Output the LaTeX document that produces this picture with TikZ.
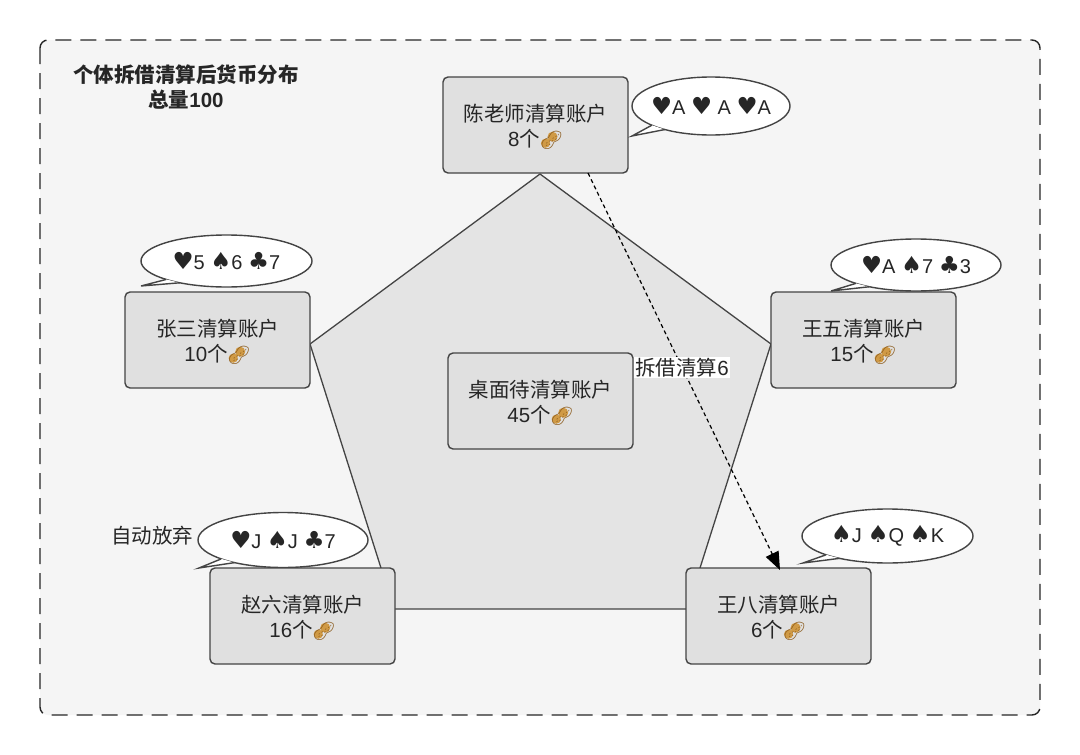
\documentclass[tikz,border=0pt]{standalone}
\usepackage{fontspec}
\setmainfont{Liberation Sans}
\newfontfamily\cjk{Noto Sans CJK SC}
\newfontfamily\suit{DejaVu Sans}
\newfontfamily\emojifont{Noto Emoji}
\usetikzlibrary{arrows.meta,calc,shapes.geometric}
\definecolor{panelbg}{HTML}{F5F5F5}
\definecolor{boxbg}{HTML}{E0E0E0}
\definecolor{pentbg}{HTML}{E4E4E4}
\definecolor{edge}{HTML}{444444}
\definecolor{peanut}{HTML}{D09A45}
\definecolor{peanutdark}{HTML}{8A5A1C}
\newcommand{\nut}{\rlap{\tikz[overlay]{\fill[peanut] (5.5,-3.5) circle[radius=4.6pt];\fill[peanut] (12.5,-10) circle[radius=5pt];\fill[peanut] (5.5,-3.5) -- (9,-5) -- (12.5,-10) -- (8,-9) -- cycle;}}\smash{\fontsize{18}{18}\selectfont\emojifont\textcolor{peanutdark}{\symbol{"1F95C}}}}
\newcommand{\acct}[2]{\rule{0pt}{20pt}{\cjk #1}\\#2{\cjk 个}\nut}
\newcommand{\suitglyph}[1]{{\fontsize{23.5}{23}\selectfont\suit\symbol{#1}}}
\newcommand{\Hrt}{\suitglyph{"2665}}
\newcommand{\Spd}{\suitglyph{"2660}}
\newcommand{\Clb}{\suitglyph{"2663}}
\tikzset{
  x=1pt,y=-1pt,
  txt/.style={font=\fontsize{20.5}{25}\selectfont,text=black!85,align=center,inner sep=0pt},
  acctbox/.style={txt,draw=edge,fill=boxbg,line width=1.4pt,rounded corners=5pt,minimum width=185pt,minimum height=96pt,anchor=north west,outer sep=0pt},
  bubble/.style={ellipse,draw=edge,fill=white,line width=1.4pt,inner sep=0pt,outer sep=0pt,font=\fontsize{20}{23}\selectfont,text=black!85},
  tailfill/.style={fill=white,draw=none},
  tailline/.style={draw=edge,line width=1.4pt,line join=miter},
}
% #1 name, #2 tip x,y, #3 angle a, #4 angle b
\newcommand{\bubbletail}[4]{
  \coordinate (#1tip) at (#2);
  \fill[tailfill] (#1.#3) -- (#1tip) -- (#1.#4) -- cycle;
  \draw[tailline] (#1.#3) -- (#1tip) -- (#1.#4);
}
\newcommand{\hands}[1]{\kern-20pt #1\kern-20pt}
\begin{document}
\begin{tikzpicture}
\useasboundingbox (0,0) rectangle (1080,755);
\fill[white] (0,0) rectangle (1080,755);
\draw[fill=panelbg,draw=black!85,line width=1.4pt,dash pattern=on 16pt off 9pt,rounded corners=8pt] (40,40) rectangle (1040,715);
\node[txt,font=\fontsize{20.5}{25}\selectfont\bfseries] (title) at (186,87.5) {{\cjk\bfseries 个体拆借清算后货币分布}\\{\cjk\bfseries 总量}100};
% pentagon
\draw[fill=pentbg,draw=edge,line width=1.3pt,line join=round] (540,174) -- (771,344) -- (687,609) -- (394,609) -- (310,344) -- cycle;
% bubbles
\node[bubble,minimum width=158pt,minimum height=58pt] (bchen) at (711,106) {\hands{\Hrt A \Hrt{} A \Hrt A}};
\bubbletail{bchen}{632,136}{198}{207}
\node[bubble,minimum width=171pt,minimum height=52pt] (bzhang) at (226.5,261) {\hands{\Hrt 5 \Spd 6 \Clb 7}};
\bubbletail{bzhang}{141,286}{197}{205}
\node[bubble,minimum width=170pt,minimum height=52pt] (bwangwu) at (916,265) {\hands{\Hrt A \Spd 7 \Clb 3}};
\bubbletail{bwangwu}{831,291}{197}{205}
\node[bubble,minimum width=170pt,minimum height=55pt] (bzhao) at (283,540) {\hands{\Hrt J \Spd J \Clb 7}};
\bubbletail{bzhao}{199,568}{197}{205}
\node[bubble,minimum width=171pt,minimum height=54pt] (bwangba) at (887.5,536) {\hands{\Spd J \Spd Q \Spd K}};
\bubbletail{bwangba}{803,563}{197}{205}
% accounts
\node[acctbox] (chen) at (443,77) {\acct{陈老师清算账户}{8}};
\node[acctbox] (zhang) at (125,292) {\acct{张三清算账户}{10}};
\node[acctbox] (wangwu) at (771,292) {\acct{王五清算账户}{15}};
\node[acctbox] (desk) at (448,353) {\acct{桌面待清算账户}{45}};
\node[acctbox] (zhao) at (210,568) {\acct{赵六清算账户}{16}};
\node[acctbox] (wangba) at (686,568) {\acct{王八清算账户}{6}};
\node[txt] (giveup) at (152,536) {\cjk 自动放弃};
% arrow
\draw[line width=1.2pt,black,dash pattern=on 4pt off 3pt,-{Triangle[length=18pt,width=14pt,black]}] ($(chen.south west)+(145,0)$) -- node[txt,fill=white,inner sep=1pt,pos=0.49] (lbl) {{\cjk 拆借清算}6} ($(wangba.north west)+(94,2)$);
\end{tikzpicture}
\end{document}
